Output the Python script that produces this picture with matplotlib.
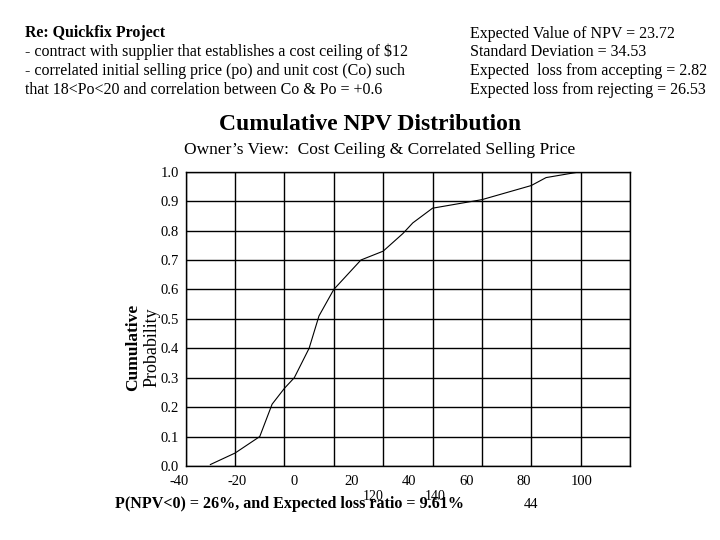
import matplotlib
matplotlib.use("Agg")
import matplotlib.pyplot as plt
import numpy as np

plt.rcParams['font.family'] = ['Liberation Serif', 'DejaVu Serif']

# cumulative NPV distribution (x in NPV units of the grid, y cumulative probability)
npv = [-30, -20, -10, -5, 0, 4, 10, 14, 20, 31, 40, 48, 52, 60, 80, 100, 106, 120]
cum_prob = [0.005, 0.044, 0.10, 0.21, 0.264, 0.30, 0.40, 0.51, 0.60, 0.70,
            0.73, 0.79, 0.826, 0.876, 0.905, 0.953, 0.98, 1.0]

grid_x = [-40, -20, 0, 20, 40, 60, 80, 100, 120, 140]
grid_y = [0.0, 0.1, 0.2, 0.3, 0.4, 0.5, 0.6, 0.7, 0.8, 0.9, 1.0]
xtick_values = [-40, -20, 0, 20, 40, 60, 80, 100]

notes_left = ["- contract with supplier that establishes a cost ceiling of $12",
              "- correlated initial selling price (po) and unit cost (Co) such",
              "that 18<Po<20 and correlation between Co & Po = +0.6"]
notes_right = ["Expected Value of NPV = 23.72",
               "Standard Deviation = 34.53",
               "Expected  loss from accepting = 2.82",
               "Expected loss from rejecting = 26.53"]

W, H = 720, 540
fig = plt.figure(figsize=(7.2, 5.4), dpi=100)
fig.patch.set_facecolor('white')


def fx(px):
    return px / W


def fy(py):
    return 1 - py / H


ax = fig.add_axes([fx(185.7), fy(466), fx(630) - fx(185.7), fy(171.7) - fy(466)])
ax.plot(npv, cum_prob, color='black', linewidth=0.8)
ax.set_xlim(-40, 140)
ax.set_ylim(0, 1.0)
ax.set_xticks(grid_x)
ax.set_yticks(grid_y)
ax.grid(True, color='black', linewidth=1.0)
ax.tick_params(axis='x', length=0, labelbottom=False)
ax.tick_params(axis='y', length=0, pad=5, labelsize=10.5)
ax.set_yticklabels([f"{v:.1f}" for v in grid_y])
for s in ax.spines.values():
    s.set_linewidth(1.0)
    s.set_color('black')

# x tick labels sit on their own, shifted scale relative to the grid
for v in xtick_values:
    ax.text(4.0 + 1.163 * v, -0.052, str(v), transform=ax.get_xaxis_transform(),
            ha='center', va='center', fontsize=10.5)

# y label
fig.text(fx(133), fy(347), "Cumulative", rotation=90, ha='center', va='center',
         fontsize=12.5, fontweight='bold')
fig.text(fx(152), fy(347), "Probability", rotation=90, ha='center', va='center',
         fontsize=13)

# titles
fig.text(fx(370), fy(124), "Cumulative NPV Distribution", ha='center', va='center',
         fontsize=17, fontweight='bold')
fig.text(fx(380), fy(150), "Owner\u2019s View:  Cost Ceiling & Correlated Selling Price",
         ha='center', va='center', fontsize=12.5)

# header notes
fig.text(fx(25), fy(37), "Re: Quickfix Project", ha='left', va='baseline',
         fontsize=11.4, fontweight='bold')
for i, line in enumerate(notes_left):
    fig.text(fx(25), fy(56.5 + 18.6 * i), line, ha='left', va='baseline', fontsize=11.5)
for i, line in enumerate(notes_right):
    fig.text(fx(470), fy(38 + 18.5 * i), line, ha='left', va='baseline', fontsize=11.5)

# bottom line and stray labels
fig.text(fx(115), fy(508), "P(NPV<0) = 26%, and Expected loss ratio = 9.61%",
         ha='left', va='baseline', fontsize=11.6, fontweight='bold')
fig.text(fx(373), fy(496), "120", ha='center', va='center', fontsize=10)
fig.text(fx(435), fy(496), "140", ha='center', va='center', fontsize=10)
fig.text(fx(531), fy(504), "44", ha='center', va='center', fontsize=10.5)

fig.savefig("out.png", dpi=100, facecolor='white')
